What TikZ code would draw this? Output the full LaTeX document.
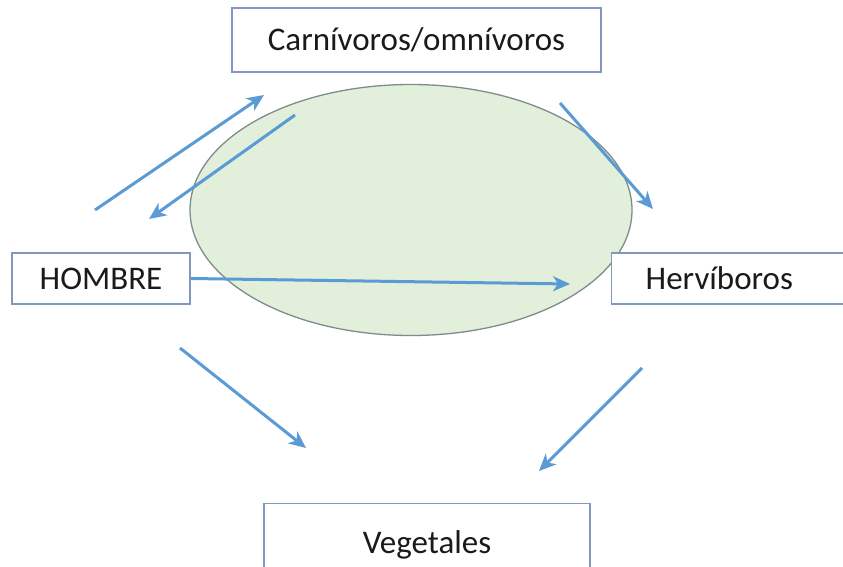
\documentclass[tikz,border=0pt]{standalone}
\usepackage{fontspec}
\setmainfont{Carlito}
\usetikzlibrary{shapes.geometric,arrows.meta}
\definecolor{arrowblue}{HTML}{5B9BD5}
\definecolor{boxedge}{HTML}{8297BB}
\definecolor{leaf}{HTML}{E2EFDA}
\definecolor{leafedge}{HTML}{7E8C8C}
\definecolor{ink}{HTML}{1A1A1A}
\tikzset{
  labelbox/.style={draw=boxedge, line width=1.4pt, fill=white, rectangle,
    text=ink, font=\fontsize{33}{38}\selectfont, inner sep=0pt},
  flow/.style={draw=arrowblue, line width=3pt,
    -{Stealth[length=17pt,width=15pt,inset=5pt]}}
}
\begin{document}
\begin{tikzpicture}[x=1pt,y=-1pt]
  \useasboundingbox (0,0) rectangle (843,567);
  \clip (0,0) rectangle (843,567);
  \fill[white] (0,0) rectangle (843,567);

  % central ellipse
  \node[ellipse, draw=leafedge, line width=1.3pt, fill=leaf,
        minimum width=442pt, minimum height=251pt, inner sep=0pt]
        (eco) at (411,210) {};

  % boxes
  \node[labelbox, minimum width=369pt, minimum height=64pt]
        (carn) at (416.5,40) {Carnívoros/omnívoros};
  \node[labelbox, minimum width=178pt, minimum height=51pt]
        (hombre) at (101,278.5) {HOMBRE};
  \node[labelbox, anchor=west, minimum height=51pt, inner xsep=34pt,
        text width=240pt, align=left]
        (herv) at (611,278.5) {Hervíboros};
  \node[labelbox, anchor=north, minimum width=326pt, minimum height=82pt]
        (veg) at (427,503) {Vegetales};

  % arrow end points
  \coordinate (a1s) at (95,210);   \coordinate (a1e) at (264,95);
  \coordinate (a2s) at (295,115);  \coordinate (a2e) at (149,219);
  \coordinate (a3s) at (560,103);  \coordinate (a3e) at (653,209);
  \coordinate (a4e) at (570,284);
  \coordinate (a5s) at (180,348);  \coordinate (a5e) at (306,448);
  \coordinate (a6s) at (642,368);  \coordinate (a6e) at (539,471);

  % arrows
  \draw[flow] (a1s) -- (a1e);
  \draw[flow] (a2s) -- (a2e);
  \draw[flow] (a3s) -- (a3e);
  \draw[flow] (hombre.east) -- (a4e);
  \draw[flow] (a5s) -- (a5e);
  \draw[flow] (a6s) -- (a6e);
\end{tikzpicture}
\end{document}
